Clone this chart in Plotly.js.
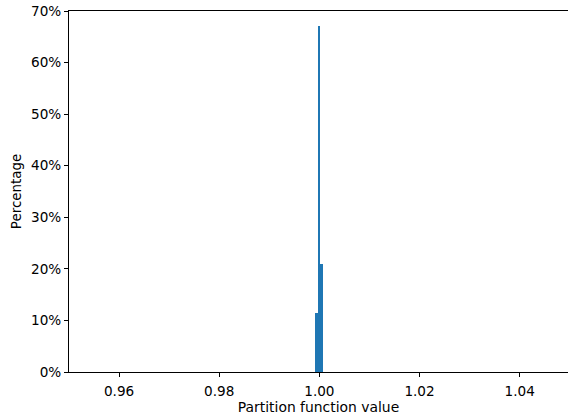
<!DOCTYPE html>
<html>
<head>
<meta charset="utf-8">
<script src="https://cdn.plot.ly/plotly-3.0.1.min.js"></script>
<style>html,body{margin:0;padding:0;background:#fff;}#chart{width:568px;height:416px;}</style>
</head>
<body>
<div id="chart"></div>
<script>
const binCenters = [0.99943, 0.99993, 1.00043];
const percentages = [11.5, 67.1, 21.0];
const binWidth = 0.0005;
const xTicks = [0.96, 0.98, 1.00, 1.02, 1.04];
const xTickLabels = ["0.96", "0.98", "1.00", "1.02", "1.04"];
const yTicks = [0, 10, 20, 30, 40, 50, 60, 70];
const yTickLabels = ["0%", "10%", "20%", "30%", "40%", "50%", "60%", "70%"];

const tickFont = {family: "DejaVu Sans", size: 13.6, color: "#000"};
Plotly.newPlot("chart", [{
  type: "bar",
  x: binCenters,
  y: percentages,
  width: binCenters.map(() => binWidth),
  marker: {color: "#1f77b4", line: {width: 0}},
  hoverinfo: "none"
}], {
  width: 568, height: 416,
  margin: {l: 69, r: 0, t: 11, b: 44},
  paper_bgcolor: "#fff", plot_bgcolor: "#fff",
  showlegend: false,
  font: tickFont,
  bargap: 0,
  xaxis: {
    range: [0.95, 1.04965],
    tickvals: xTicks, ticktext: xTickLabels,
    ticks: "outside", ticklen: 4, tickwidth: 1, tickcolor: "#000",
    ticklabelstandoff: 3,
    showline: true, linecolor: "#000", linewidth: 1, mirror: true,
    showgrid: false, zeroline: false,
    tickfont: tickFont,
    title: {text: "Partition function value", font: {family: "DejaVu Sans", size: 13.9, color: "#000"}, standoff: 3}
  },
  yaxis: {
    range: [0, 70],
    tickvals: yTicks, ticktext: yTickLabels,
    ticks: "outside", ticklen: 4, tickwidth: 1, tickcolor: "#000",
    showline: true, linecolor: "#000", linewidth: 1,
    showgrid: false, zeroline: false,
    tickfont: tickFont,
    title: {text: "Percentage", font: {family: "DejaVu Sans", size: 13.4, color: "#000"}, standoff: 6}
  }
}, {staticPlot: true});
</script>
</body>
</html>
